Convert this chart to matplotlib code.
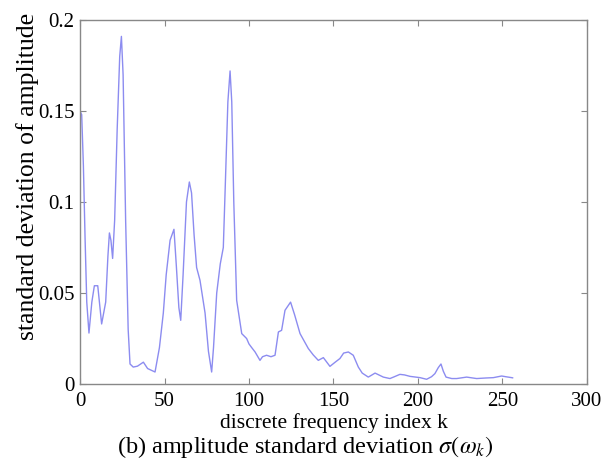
import matplotlib
matplotlib.use("Agg")
import matplotlib.pyplot as plt

k_index = [0, 1, 2, 3, 4, 5.3, 7, 8.5, 10.5, 12.8, 15.2, 16.5, 17.4, 18.3, 19.3, 20.5, 22, 23.5, 24.5,
           25.5, 27, 28.5, 29.6, 31.5, 34, 37.5, 40, 44.4, 47, 49.3, 51, 53.3, 55.6, 57, 58.5, 59.6,
           61, 63, 64.7, 66, 67.5, 69, 71, 74, 76, 77.9, 79, 80.9, 83, 84.8, 86, 87.5, 88.8, 89.8,
           91, 92.7, 95.7, 98.6, 100, 101.6, 103.6, 106.5, 108, 110.4, 113, 115.4, 117.4, 119.3,
           121.3, 124.6, 127, 130.2, 135.1, 138, 141, 144, 147.9, 151, 153.8, 156, 158.8, 161.7,
           164.7, 167, 170.6, 174.6, 179.5, 183.4, 186, 189.3, 192, 195.3, 201.2, 205.1, 208, 210,
           212, 213.6, 215, 216.6, 220, 222.9, 228.8, 234.7, 240, 244.6, 249.5, 252, 255.4, 256]
std_amp = [0.150, 0.148, 0.12, 0.08, 0.045, 0.028, 0.045, 0.054, 0.054, 0.033, 0.045, 0.070, 0.083,
           0.079, 0.069, 0.09, 0.14, 0.18, 0.191, 0.17, 0.09, 0.03, 0.011, 0.0093, 0.0098, 0.012,
           0.0085, 0.0066, 0.02, 0.039, 0.06, 0.079, 0.085, 0.065, 0.042, 0.035, 0.06, 0.10, 0.111,
           0.105, 0.082, 0.064, 0.057, 0.039, 0.018, 0.0066, 0.02, 0.050, 0.066, 0.075, 0.11, 0.155,
           0.172, 0.155, 0.1, 0.046, 0.0277, 0.025, 0.022, 0.020, 0.0176, 0.013, 0.015, 0.0158,
           0.015, 0.0158, 0.0286, 0.0295, 0.0405, 0.045, 0.038, 0.0277, 0.0195, 0.016, 0.013,
           0.0145, 0.0097, 0.012, 0.014, 0.017, 0.0176, 0.0158, 0.0093, 0.006, 0.0038, 0.006,
           0.0038, 0.003, 0.004, 0.0053, 0.005, 0.0042, 0.0035, 0.0026, 0.004, 0.0057, 0.009, 0.011,
           0.007, 0.0038, 0.003, 0.003, 0.0038, 0.003, 0.0033, 0.0035, 0.0044, 0.004, 0.0035, 0.0034]

x_ticks = [0, 50, 100, 150, 200, 250, 300]
y_ticks = [0, 0.05, 0.1, 0.15, 0.2]
y_tick_labels = ["0", "0.05", "0.1", "0.15", "0.2"]

plt.rcParams['font.family'] = ['Liberation Serif', 'DejaVu Serif']
plt.rcParams['mathtext.fontset'] = 'stix'

fig = plt.figure(figsize=(6.14, 4.61), dpi=100)
ax = fig.add_axes([0.1303, 0.167, 0.8257, 0.7896])
ax.plot(k_index, std_amp, color='#8c8cf0', linewidth=1.0)
ax.set_xlim(0, 300)
ax.set_ylim(0, 0.2)
ax.set_xticks(x_ticks)
ax.set_yticks(y_ticks)
ax.set_yticklabels(y_tick_labels)
ax.tick_params(direction='in', top=True, right=True, length=4, color='#888888',
               labelsize=15)
ax.tick_params(axis='x', pad=6)
ax.tick_params(axis='y', pad=4)
for s in ax.spines.values():
    s.set_color('#888888')
    s.set_linewidth(1.0)
ax.set_xlabel('discrete frequency index k', fontsize=15.5, labelpad=1)
ax.set_ylabel('standard deviation of amplitude', fontsize=18.5, va='center')
ax.yaxis.set_label_coords(-0.103, 0.569)
fig.text(0.497, 0.031, r'(b) amplitude standard deviation $\sigma(\omega_k)$', ha='center',
         va='center', fontsize=17.5)
fig.savefig('out.png', dpi=100)
